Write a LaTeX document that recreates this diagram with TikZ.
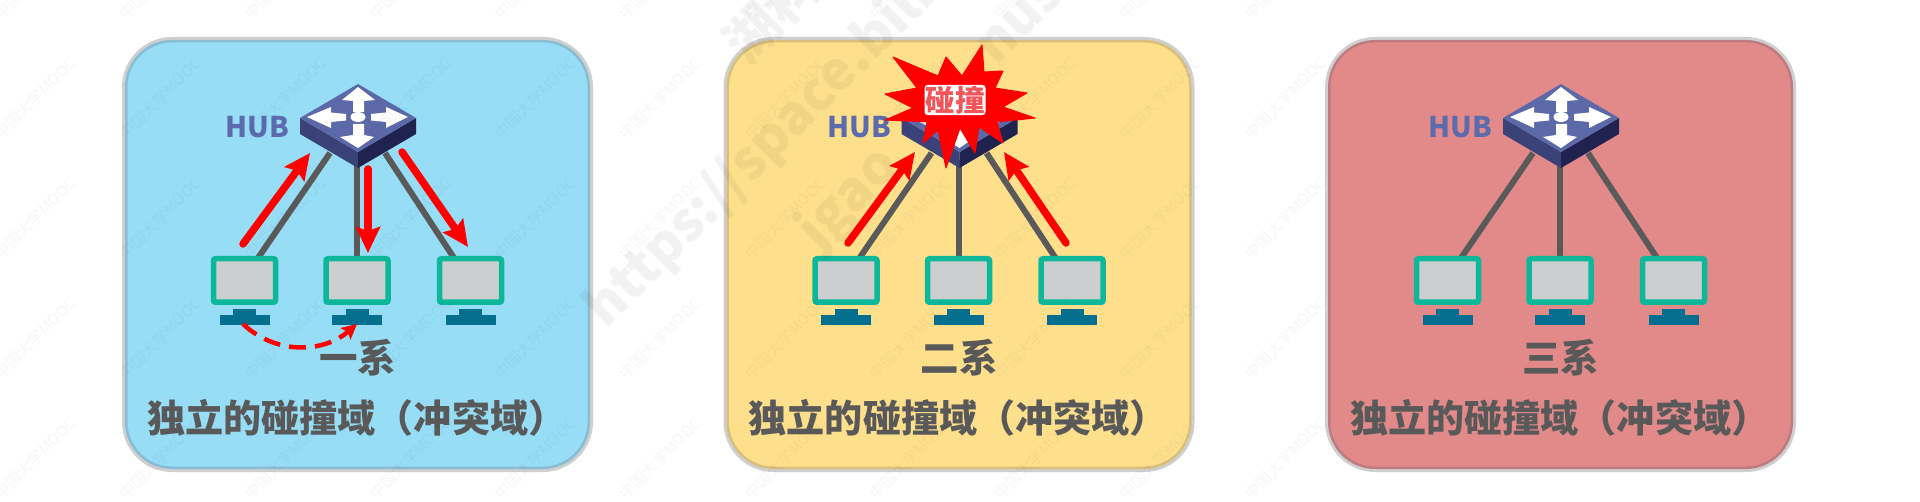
\documentclass[tikz,border=0pt]{standalone}
\usepackage{fontspec}
\setmainfont{Noto Sans CJK SC}
\usetikzlibrary{arrows.meta}
\definecolor{hubtop}{HTML}{5B69A8}
\definecolor{hubleft}{HTML}{3A4278}
\definecolor{hubright}{HTML}{20234F}
\definecolor{hubtext}{HTML}{5B6BAD}
\definecolor{teal}{HTML}{0DB89A}
\definecolor{screen}{HTML}{CDCED0}
\definecolor{stand}{HTML}{056F90}
\definecolor{linkgray}{HTML}{5A5A5A}
\definecolor{labelgray}{HTML}{595959}
\definecolor{edgegray}{HTML}{CFCFCF}
\definecolor{panelblue}{HTML}{96DDF5}
\definecolor{edgeblue}{HTML}{88BDD3}
\definecolor{panelyellow}{HTML}{FEE08C}
\definecolor{edgeyellow}{HTML}{D9BF7C}
\definecolor{panelred}{HTML}{E28A8A}
\definecolor{edgered}{HTML}{BD7C80}
\definecolor{hittext}{HTML}{F0555A}
\tikzset{
  monitor/.style={draw=teal,fill=screen,line width=5.5pt,rounded corners=2pt,minimum width=62pt,minimum height=43.5pt,inner sep=0pt},
  link/.style={draw=linkgray,line width=6pt},
  flow/.style={draw=red,line width=7.5pt,line cap=round,-{Stealth[length=26pt,width=24pt,inset=4pt]}},
  hopflow/.style={draw=red,line width=4.5pt,dash pattern=on 17pt off 9pt,-{Stealth[length=15pt,width=15pt,inset=3pt]}},
  hubname/.style={text=hubtext,font=\fontsize{28.5}{28.5}\selectfont\bfseries,inner sep=0pt},
  sysname/.style={text=labelgray,font=\fontsize{38.5}{38.5}\selectfont\bfseries,inner sep=0pt},
  domname/.style={text=labelgray,font=\fontsize{38.1}{38.1}\selectfont\bfseries,inner sep=0pt,anchor=west},
  hitname/.style={text=hittext,fill=white,rounded corners=3pt,font=\fontsize{29.5}{29.5}\selectfont\bfseries,inner sep=1pt},
  hubbody/.style={minimum width=116pt,minimum height=84pt,inner sep=0pt},
  bigmark/.style={text=black,text opacity=.05,rotate=45,font=\fontsize{54}{54}\selectfont\bfseries,inner sep=0pt,anchor=west},
  tinymark/.style={text=black,text opacity=.035,rotate=45,font=\fontsize{15.5}{15.5}\selectfont,inner sep=0pt}
}
% #1 index, #2 x offset, #3 fill, #4 inner edge, #5 system label
\newcommand{\lanpanel}[5]{%
\begin{scope}[shift={(#2,0)}]
  \fill[edgegray,rounded corners=50pt] (122,37) rectangle (593,472);
  \fill[#4,rounded corners=47pt] (125,40) rectangle (590,469);
  \fill[#3,rounded corners=45pt] (127.5,42.5) rectangle (587.5,466.5);
  % end points of the links
  \coordinate (h#1a) at (330,153);
  \coordinate (h#1b) at (357,160);
  \coordinate (h#1c) at (385,153);
  \coordinate (t#1a) at (258,258);
  \coordinate (t#1b) at (357,258);
  \coordinate (t#1c) at (454,258);
  \draw[link] (h#1a) -- (t#1a);
  \draw[link] (h#1b) -- (t#1b);
  \draw[link] (h#1c) -- (t#1c);
  % hub
  \node[hubbody] (hub#1) at (358,126) {};
  \fill[hubleft] (300,118) -- (358,152) -- (358,168) -- (300,134) -- cycle;
  \fill[hubright] (416,118) -- (358,152) -- (358,168) -- (416,134) -- cycle;
  \fill[hubtop] (358,84) -- (416,118) -- (358,152) -- (300,118) -- cycle;
  \fill[white] (358,87) -- (375,100) -- (364,101) -- (364,112) -- (353,112) -- (353,101) -- (342,100) -- cycle;
  \fill[white] (358,148) -- (374,137) -- (364,135) -- (364,124) -- (353,124) -- (353,135) -- (340,137) -- cycle;
  \fill[white] (307,117) -- (331,107) -- (331,112.5) -- (346,114) -- (346,120.5) -- (331,122) -- (331,128) -- cycle;
  \fill[white] (408,117) -- (386,107) -- (386,112.5) -- (371,114) -- (371,120.5) -- (386,122) -- (386,128) -- cycle;
  \fill[white] (358,117) ellipse [x radius=7.5,y radius=5];
  \node[hubname] (hubname#1) at (257.5,127) {HUB};
  % computers
  \node[monitor] (pc#1a) at (244.5,280.5) {};
  \node[monitor] (pc#1b) at (357,280.5) {};
  \node[monitor] (pc#1c) at (470.5,280.5) {};
  \foreach \cx in {244.5,357,470.5}{
    \fill[stand] (\cx-11.5,309) rectangle (\cx+11.5,316);
    \fill[stand] (\cx-25,315) rectangle (\cx+25,325);
  }
  \node[sysname] (sys#1) at (357.5,358) {#5};
  \node[domname] (dom#1) at (147,418) {独立的碰撞域（冲突域）};
\end{scope}}
\begin{document}
\begin{tikzpicture}[x=1pt,y=-1pt]
\useasboundingbox (0,0) rectangle (1920,502);
\fill[white] (0,0) rectangle (1920,502);
\lanpanel{1}{0}{panelblue}{edgeblue}{一系}
\lanpanel{2}{601.5}{panelyellow}{edgeyellow}{二系}
\lanpanel{3}{1203}{panelred}{edgered}{三系}
% panel one traffic
\coordinate (p1as) at (243,244);
\coordinate (p1ae) at (310,153);
\coordinate (p1bs) at (368,169);
\coordinate (p1be) at (368,253);
\coordinate (p1cs) at (402,152);
\coordinate (p1ce) at (468,247);
\coordinate (p1ds) at (243,324);
\coordinate (p1de) at (357,324);
\draw[flow] (p1as) -- (p1ae);
\draw[flow] (p1bs) -- (p1be);
\draw[flow] (p1cs) -- (p1ce);
\draw[hopflow] (p1ds) .. controls (275,354) and (322,354) .. (p1de);
% panel two traffic
\coordinate (p2as) at (848,243);
\coordinate (p2ae) at (915,152);
\coordinate (p2cs) at (1066,243);
\coordinate (p2ce) at (1004,152);
\draw[flow] (p2as) -- (p2ae);
\draw[flow] (p2cs) -- (p2ce);
% collision burst
\fill[red,line join=round,draw=red,line width=1pt]
  (982,45) -- (984,72) -- (1003,71) -- (995,88) -- (1027,93) -- (1003,107) -- (1035,118)
  -- (997,122) -- (1003,143) -- (979,127) -- (975,153) -- (960,128) -- (946,168)
  -- (938,130) -- (923,143) -- (927,122) -- (885,120) -- (913,108) -- (885,94)
  -- (917,88) -- (893,57) -- (938,76) -- (946,57) -- (962,76) -- cycle;
\node[hitname] (hit) at (955,100) {碰撞};
% watermarks
\node[bigmark] (wma) at (594,318) {https://space.bilibili};
\node[bigmark] (wmb) at (808,240) {jgao};
\node[bigmark] (wmc) at (985,56) {nus};
\node[bigmark] (wmd) at (733,52) {湖科};
\foreach \wx in {35,160,...,1285}
  \foreach \wy in {-22,98,218,338,458}
    \node[tinymark] at (\wx,\wy) {中国大学MOOC};
\end{tikzpicture}
\end{document}
